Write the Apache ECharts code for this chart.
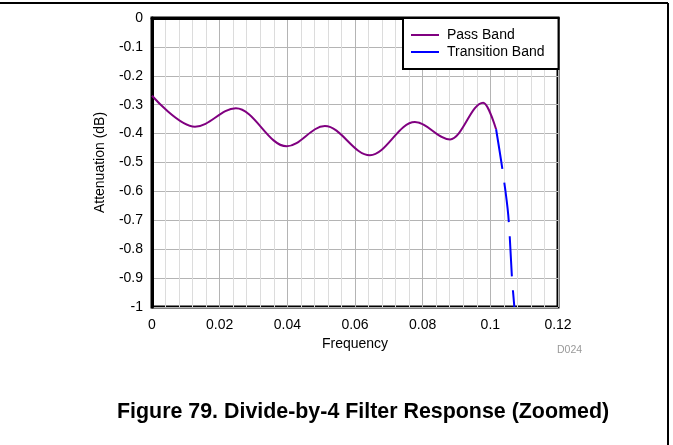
<!DOCTYPE html>
<html>
<head>
<meta charset="utf-8">
<script src="https://cdn.jsdelivr.net/npm/echarts@6/dist/echarts.min.js"></script>
<style>
html,body{margin:0;padding:0;background:#fff;}
#chart{width:673px;height:445px;}
</style>
</head>
<body>
<div id="chart"></div>
<script>
// Data
// Pass band: start, local minima / maxima of the ripple, then the hand-off point
var passFreq = [0, 0.0127, 0.0248, 0.0398, 0.0511, 0.0644, 0.0777, 0.0881, 0.0979, 0.1017];
var passAtten = [-0.269, -0.376, -0.3125, -0.444, -0.374, -0.475, -0.36, -0.42, -0.293, -0.385];
// Transition band
var transFreq = [0.1017, 0.1036, 0.1053, 0.1064, 0.1071];
var transAtten = [-0.385, -0.526, -0.682, -0.90, -1.0];
var seriesNames = ['Pass Band', 'Transition Band'];
var xTicks = {min: 0, max: 0.12, interval: 0.02};
var yTicks = {min: -1, max: 0, interval: 0.1};
var xName = 'Frequency';
var yName = 'Attenuation (dB)';
var caption = 'Figure 79. Divide-by-4 Filter Response (Zoomed)';
var figId = 'D024';

function zip(a, b) { return a.map(function (v, i) { return [v, b[i]]; }); }

var FONT = 'Arial, "Liberation Sans", sans-serif';
var PURPLE = '#800080', BLUE = '#0000ff';
var chart = echarts.init(document.getElementById('chart'), null, {renderer: 'canvas'});
chart.setOption({
  backgroundColor: '#fff',
  animation: false,
  grid: {left: 152, top: 18, width: 406, height: 289, show: true, borderColor: '#000', borderWidth: 3, containLabel: false},
  xAxis: {
    type: 'value', min: xTicks.min, max: xTicks.max, interval: xTicks.interval,
    name: xName, nameLocation: 'middle', nameGap: 25,
    nameTextStyle: {fontFamily: FONT, fontSize: 14, color: '#000'},
    axisLine: {show: true, lineStyle: {color: '#000', width: 3}},
    axisTick: {show: false},
    axisLabel: {fontFamily: FONT, fontSize: 14, color: '#000', margin: 11},
    splitLine: {show: true, lineStyle: {color: '#b4b4b4', width: 1}},
    minorTick: {show: false, splitNumber: 5},
    minorSplitLine: {show: true, lineStyle: {color: '#dcdcdc', width: 1}}
  },
  yAxis: {
    type: 'value', min: yTicks.min, max: yTicks.max, interval: yTicks.interval,
    name: yName, nameLocation: 'middle', nameGap: 45,
    nameTextStyle: {fontFamily: FONT, fontSize: 14, color: '#000'},
    axisLine: {show: true, lineStyle: {color: '#000', width: 3}},
    axisTick: {show: false},
    axisLabel: {fontFamily: FONT, fontSize: 14, color: '#000', margin: 9},
    splitLine: {show: true, lineStyle: {color: '#b4b4b4', width: 1}}
  },
  legend: {
    orient: 'vertical', left: 403, top: 18,
    data: seriesNames,
    icon: 'rect', itemWidth: 28, itemHeight: 2, itemGap: 3,
    padding: [10, 14, 10, 8],
    backgroundColor: '#fff', borderColor: '#000', borderWidth: 2,
    textStyle: {fontFamily: FONT, fontSize: 14, color: '#000', padding: [0, 0, 0, 3]}
  },
  series: [
    {name: seriesNames[0], type: 'line', data: zip(passFreq, passAtten), smooth: 0.36, smoothMonotone: 'x', symbol: 'none',
     lineStyle: {color: PURPLE, width: 2}, itemStyle: {color: PURPLE}, z: 3},
    {name: seriesNames[1], type: 'line', data: zip(transFreq, transAtten), smooth: 0.3, symbol: 'none',
     lineStyle: {color: BLUE, width: 2, type: [40, 14]}, itemStyle: {color: BLUE}, z: 3}
  ],
  graphic: [
    {type: 'line', shape: {x1: 0, y1: 3, x2: 668, y2: 3}, style: {stroke: '#000', lineWidth: 2}},
    {type: 'line', shape: {x1: 668, y1: 3, x2: 668, y2: 445}, style: {stroke: '#000', lineWidth: 2}},
    {type: 'text', left: 557, top: 345, style: {text: figId, fontFamily: FONT, fontSize: 10.5, fill: '#999'}},
    {type: 'text', left: 117, top: 402, style: {text: caption, fontFamily: FONT, fontSize: 21.4, fontWeight: 'bold', fill: '#000'}}
  ]
});
</script>
</body>
</html>
